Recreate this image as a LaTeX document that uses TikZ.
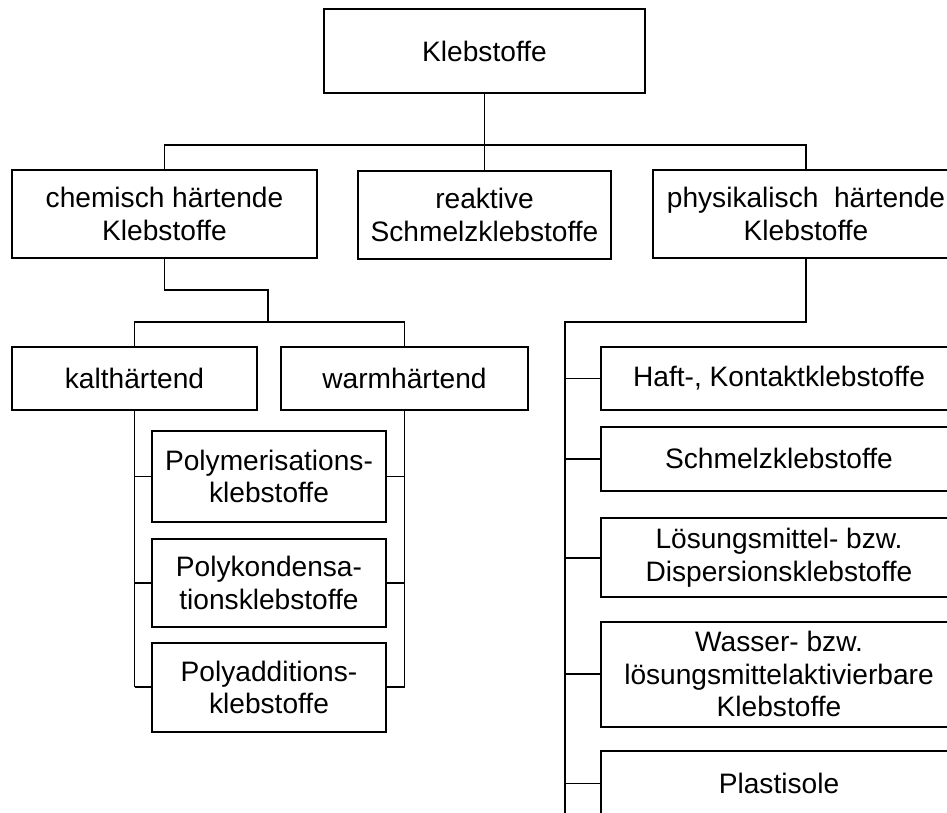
\documentclass[tikz,border=0pt]{standalone}
\usepackage{fontspec}
\setmainfont{Liberation Sans}
\usetikzlibrary{positioning}

\tikzset{
  box/.style={draw, line width=1.3pt, align=center, inner sep=2pt,
    font=\fontsize{20}{23}\selectfont},
  link/.style={line width=1.3pt},
}

\begin{document}
\begin{tikzpicture}[x=0.025cm, y=-0.025cm]
  \useasboundingbox (0,0) rectangle (947,813);
  \clip (0,0) rectangle (947,813);

  % top level
  \node[box, minimum width=8.025cm, minimum height=2.1cm] (kleb) at (484.5,51) {Klebstoffe};

  % second level
  \node[box, minimum width=7.625cm, minimum height=2.2cm] (chem) at (164.5,214) {chemisch härtende\\Klebstoffe};
  \node[box, minimum width=6.325cm, minimum height=2.2cm] (reak) at (484.5,215) {reaktive\\Schmelzklebstoffe};
  \node[box, minimum width=7.65cm, minimum height=2.2cm] (phys) at (806,214) {physikalisch\ \ härtende\\Klebstoffe};

  % chemisch
  \node[box, minimum width=6.125cm, minimum height=1.575cm] (kalt) at (134.5,378.5) {kalthärtend};
  \node[box, minimum width=6.175cm, minimum height=1.575cm] (warm) at (404.5,378.5) {warmhärtend};
  \node[box, minimum width=5.85cm, minimum height=2.275cm] (poly1) at (269,476.5) {Polymerisations-\\klebstoffe};
  \node[box, minimum width=5.85cm, minimum height=2.2cm, below=0.38cm of poly1] (poly2) {Polykondensa-\\tionsklebstoffe};
  \node[box, minimum width=5.85cm, minimum height=2.225cm, below=0.35cm of poly2] (poly3) {Polyadditions-\\klebstoffe};

  % physikalisch
  \node[box, minimum width=8.9cm, minimum height=1.575cm] (haft) at (779,378.5) {Haft-, Kontaktklebstoffe};
  \node[box, minimum width=8.9cm, minimum height=1.6cm, below=0.37cm of haft] (schmelz) {Schmelzklebstoffe};
  \node[box, minimum width=8.9cm, minimum height=1.975cm, below=0.64cm of schmelz] (loes) {Lösungsmittel- bzw.\\Dispersionsklebstoffe};
  \node[box, minimum width=8.9cm, minimum height=2.625cm, below=0.57cm of loes] (wasser) {Wasser- bzw.\\lösungsmittelaktivierbare\\Klebstoffe};
  \node[box, minimum width=8.9cm, minimum height=1.6cm, below=0.57cm of wasser] (plast) {Plastisole};

  \coordinate (topbus) at (484.5,145);
  \coordinate (chemknee) at (268,290);
  \coordinate (chembus) at (268,322);
  \coordinate (physbus) at (565,322);
  \coordinate (physend) at (565,820);

  \draw[link] (kleb.south) -- (reak.north);
  \draw[link] (chem.north) |- (topbus) -| (phys.north);

  \draw[link] (chem.south) |- (chemknee) -- (chembus);
  \draw[link] (kalt.north) |- (chembus) -| (warm.north);
  \draw[link] (kalt.south) -- (kalt.south |- poly3.west);
  \draw[link] (warm.south) -- (warm.south |- poly3.east);
  \foreach \n in {poly1,poly2,poly3} {
    \draw[link] (kalt.south |- \n.west) -- (\n.west);
    \draw[link] (warm.south |- \n.east) -- (\n.east);
  }

  \draw[link] (phys.south) |- (physbus) -- (physend);
  \foreach \n in {haft,schmelz,loes,wasser,plast}
    \draw[link] (physbus |- \n.west) -- (\n.west);
\end{tikzpicture}
\end{document}
